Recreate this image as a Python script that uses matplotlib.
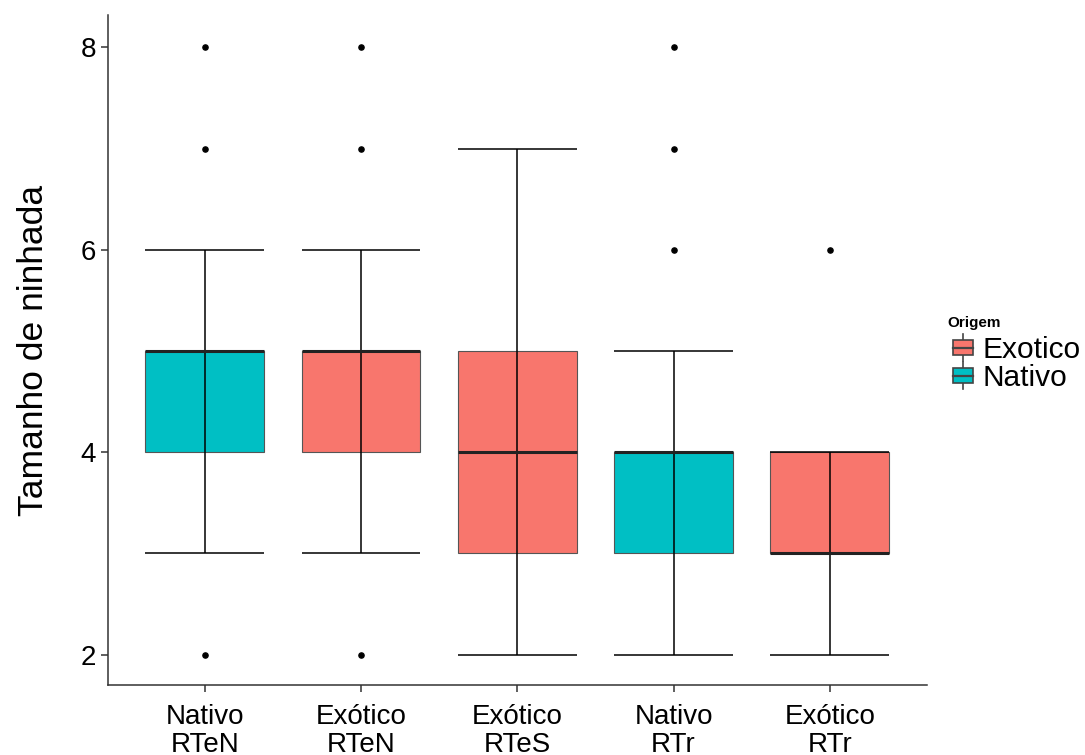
import numpy as np
import matplotlib.pyplot as plt
from matplotlib.patches import Rectangle
from matplotlib.lines import Line2D
from matplotlib.legend_handler import HandlerBase

plt.rcParams['font.family'] = ['Liberation Sans', 'DejaVu Sans']

# litter size per group (box statistics)
grupos = ['Nativo\nRTeN', 'Exótico\nRTeN', 'Exótico\nRTeS', 'Nativo\nRTr', 'Exótico\nRTr']
origem = ['Nativo', 'Exotico', 'Exotico', 'Nativo', 'Exotico']
q1 = [4, 4, 3, 3, 3]
mediana = [5, 5, 4, 4, 3]
q3 = [5, 5, 5, 4, 4]
whis_lo = [3, 3, 2, 2, 2]
whis_hi = [6, 6, 7, 5, 4]
outliers = [[2, 7, 8], [2, 7, 8], [], [6, 7, 8], [6]]

cores = {'Exotico': '#F8766D', 'Nativo': '#00BFC4'}
largura = 0.76

fig = plt.figure(figsize=(10.85, 7.55), dpi=100)
ax = fig.add_axes([0.0995, 0.0927, 0.7545, 0.8873])

x = np.arange(1, len(grupos) + 1)
for i, xi in enumerate(x):
    ax.bar(xi, q3[i] - q1[i], bottom=q1[i], width=largura,
           color=cores[origem[i]], edgecolor='#555555', linewidth=0.8, zorder=2)
    ax.vlines(xi, whis_lo[i], whis_hi[i], color='black', linewidth=1.1, zorder=3)
    ax.hlines([whis_lo[i], whis_hi[i]], xi - largura / 2, xi + largura / 2,
              color='black', linewidth=1.1, zorder=3)
    ax.hlines(mediana[i], xi - largura / 2, xi + largura / 2,
              color='#222222', linewidth=2.2, zorder=4)
    if outliers[i]:
        ax.scatter([xi] * len(outliers[i]), outliers[i], s=14, color='black', zorder=5)

ax.set_xlim(0.38, 5.62)
ax.set_ylim(1.7, 8.32)
ax.set_xticks(x)
ax.set_xticklabels(grupos, fontsize=20, linespacing=1.1)
ax.set_yticks([2, 4, 6, 8])
ax.tick_params(axis='y', labelsize=20, length=5, width=1.1, color='#333333')
ax.tick_params(axis='x', length=5, width=1.1, color='#333333', pad=9)
ax.set_ylabel('Tamanho de ninhada', fontsize=25.5, labelpad=22)

for lado in ['top', 'right']:
    ax.spines[lado].set_visible(False)
for lado in ['left', 'bottom']:
    ax.spines[lado].set_linewidth(1.1)
    ax.spines[lado].set_color('#333333')


class HandlerCaixa(HandlerBase):
    def create_artists(self, legend, orig_handle, xdescent, ydescent,
                       width, height, fontsize, trans):
        x0 = -xdescent + 0.2 * width
        w = 0.8 * width
        cx = x0 + w / 2
        h = height
        y0 = -ydescent
        caixa = Rectangle((x0, y0), w, h,
                          facecolor=orig_handle.get_facecolor(),
                          edgecolor='#444444', linewidth=1.2, transform=trans)
        bigode = Line2D([cx, cx], [y0 - 0.4 * h, y0 + 1.4 * h],
                        color='#444444', linewidth=1.2, transform=trans)
        med = Line2D([x0, x0 + w], [y0 + h / 2, y0 + h / 2],
                     color='#444444', linewidth=1.6, transform=trans)
        return [bigode, caixa, med]


alcas = [Rectangle((0, 0), 1, 1, facecolor=cores[k]) for k in ['Exotico', 'Nativo']]
leg = fig.legend(alcas, ['Exotico', 'Nativo'], title='Origem',
                 handler_map={Rectangle: HandlerCaixa()},
                 loc='upper left', bbox_to_anchor=(0.8625, 0.597),
                 frameon=False, fontsize=21.5, handlelength=0.84, handleheight=0.4,
                 handletextpad=0.33, labelspacing=0.0, borderaxespad=0,
                 title_fontproperties={'weight': 'bold', 'size': 11})
leg._legend_box.align = 'left'
leg._legend_box.sep = 4.5

fig.savefig('out.png', dpi=100)
